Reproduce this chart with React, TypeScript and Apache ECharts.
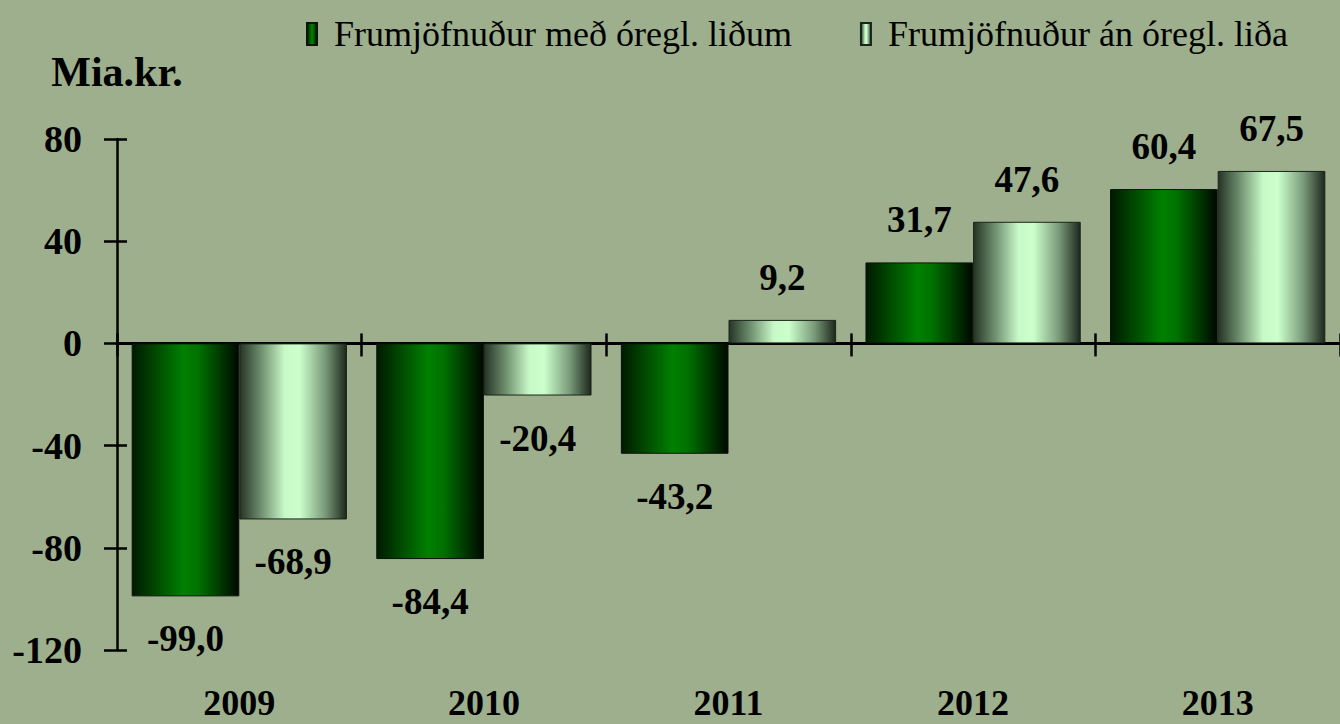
import React, { useEffect, useRef } from "react";
import * as echarts from "echarts";

const categories = ["2009", "2010", "2011", "2012", "2013"];
const seriesNames = ["Frumjöfnuður með óregl. liðum", "Frumjöfnuður án óregl. liða"];
const withIrregular = [-99.0, -84.4, -43.2, 31.7, 60.4];
const withoutIrregular = [-68.9, -20.4, 9.2, 47.6, 67.5];
const yMin = -120;
const yMax = 80;
const yInterval = 40;
const yAxisTitle = "Mia.kr.";

const FONT = "'Liberation Serif', 'Times New Roman', serif";
const BG = "#9daf8c";

const fmt = (v: number) => v.toFixed(1).replace(".", ",");

const toItems = (vals: number[]) =>
  vals.map((v) => ({ value: v, label: { position: v < 0 ? "bottom" : "top" } }));

export default function App() {
  const ref = useRef<HTMLDivElement>(null);
  useEffect(() => {
    document.body.style.margin = "0";
    if (!ref.current) return;
    const chart = echarts.init(ref.current, undefined, { renderer: "svg" });
    const greenGrad = new echarts.graphic.LinearGradient(0, 0, 1, 0, [
      { offset: 0, color: "#001a00" },
      { offset: 0.48, color: "#008000" },
      { offset: 0.62, color: "#007200" },
      { offset: 1, color: "#000800" },
    ]);
    const lightGrad = new echarts.graphic.LinearGradient(0, 0, 1, 0, [
      { offset: 0, color: "#263426" },
      { offset: 0.2, color: "#6f8f6f" },
      { offset: 0.42, color: "#c8f8c8" },
      { offset: 0.56, color: "#ccffcc" },
      { offset: 0.8, color: "#7a9a7a" },
      { offset: 1, color: "#1c281c" },
    ]);
    const labelStyle = {
      show: true,
      formatter: (p: any) => fmt(p.value),
      fontFamily: FONT,
      fontWeight: "bold",
      fontSize: 37,
      color: "#000",
      distance: 24,
    };
    const tickLine = { color: "#000", width: 2.5 };
    chart.setOption({
      animation: false,
      backgroundColor: BG,
      grid: { left: 117, right: -2, top: 139, bottom: 74, containLabel: false },
      legend: {
        data: seriesNames,
        left: 301,
        top: 11,
        icon: "rect",
        itemWidth: 10,
        itemHeight: 22,
        itemGap: 68,
        textStyle: { fontFamily: FONT, fontSize: 36, color: "#000", padding: [0, 0, 0, 12] },
      },
      xAxis: [
        {
          type: "category",
          data: categories,
          position: "bottom",
          axisLine: { show: true, onZero: true, lineStyle: { color: "#000", width: 3 } },
          axisTick: { show: true, inside: false, length: 13, lineStyle: tickLine },
          axisLabel: { show: false },
          splitLine: { show: false },
        },
        {
          type: "category",
          data: categories,
          position: "bottom",
          axisLine: { show: true, onZero: true, lineStyle: { color: "#000", width: 3 } },
          axisTick: { show: true, inside: true, length: 10, lineStyle: tickLine },
          axisLabel: { show: false },
          splitLine: { show: false },
        },
        {
          type: "category",
          data: categories,
          position: "bottom",
          axisLine: { show: false, onZero: false },
          axisTick: { show: false },
          axisLabel: {
            show: true,
            margin: 35,
            fontFamily: FONT,
            fontWeight: "bold",
            fontSize: 36,
            lineHeight: 36,
            color: "#000",
          },
          splitLine: { show: false },
        },
      ],
      yAxis: [
        {
          type: "value",
          min: yMin,
          max: yMax,
          interval: yInterval,
          position: "left",
          name: yAxisTitle,
          nameLocation: "end",
          nameGap: 46,
          nameTextStyle: { fontFamily: FONT, fontWeight: "bold", fontSize: 42, color: "#000" },
          axisLine: { show: true, onZero: false, lineStyle: { color: "#000", width: 2.5 } },
          axisTick: { show: true, inside: false, length: 13, lineStyle: tickLine },
          axisLabel: {
            show: true,
            margin: 35,
            fontFamily: FONT,
            fontWeight: "bold",
            fontSize: 38,
            color: "#000",
          },
          splitLine: { show: false },
        },
        {
          type: "value",
          min: yMin,
          max: yMax,
          interval: yInterval,
          position: "left",
          axisLine: { show: false, onZero: false },
          axisTick: { show: true, inside: true, length: 10, lineStyle: tickLine },
          axisLabel: { show: false },
          splitLine: { show: false },
        },
      ],
      series: [
        {
          name: seriesNames[0],
          type: "bar",
          xAxisIndex: 0,
          yAxisIndex: 0,
          data: toItems(withIrregular),
          barGap: "0%",
          barCategoryGap: "12%",
          itemStyle: { color: greenGrad, borderColor: "#0a140a", borderWidth: 1 },
          label: labelStyle,
          z: 1,
        },
        {
          name: seriesNames[1],
          type: "bar",
          xAxisIndex: 0,
          yAxisIndex: 0,
          data: toItems(withoutIrregular),
          barGap: "0%",
          barCategoryGap: "12%",
          itemStyle: { color: lightGrad, borderColor: "#1a241a", borderWidth: 1 },
          label: labelStyle,
          z: 1,
        },
      ],
    });
    return () => chart.dispose();
  }, []);
  return <div ref={ref} style={{ width: 1340, height: 724, background: BG }} />;
}
